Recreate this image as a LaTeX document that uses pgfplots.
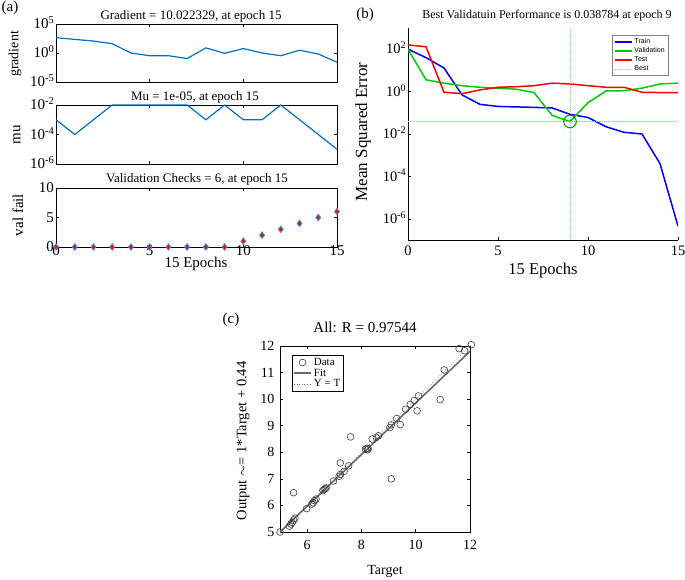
\documentclass[border=0pt]{standalone}
\usepackage{pgfplots}
\pgfplotsset{compat=1.18}
\usepackage{fontspec}
\setmainfont{Liberation Serif}
\newfontfamily\arialfont{Liberation Sans}
\definecolor{mblue}{RGB}{0,114,189}
\definecolor{lblue}{RGB}{70,140,220}
\definecolor{trainblue}{RGB}{0,0,255}
\definecolor{valgreen}{RGB}{0,205,0}
\definecolor{bestgreen}{RGB}{140,205,140}
\definecolor{testred}{RGB}{255,0,0}
\definecolor{markgray}{RGB}{60,60,60}
\definecolor{fitgray}{RGB}{105,105,105}
\newcommand{\fs}[1]{\fontsize{#1}{#1}\selectfont}
\newcommand{\sx}[1]{10\smash{\textsuperscript{#1}}}
\begin{document}
\begin{tikzpicture}
\path[use as bounding box] (0,0) rectangle (685pt,579pt);
\pgfplotsset{every axis/.append style={scale only axis, anchor=south west,
  /pgf/number format/assume math mode=true,
  tick align=inside, major tick length=3pt,
  tick style={black, line width=0.5pt},
  axis line style={line width=0.6pt, black},
  xminorticks=false, yminorticks=false}}

% (a) gradient
\begin{axis}[at={(56pt,497pt)}, width=281pt, height=58pt,
  ymode=log, xmin=0, xmax=15, ymin=1e-5, ymax=1e5,
  xtick={0,5,10,15}, xticklabels={},
  ytick={1e-5,1,1e5}, yticklabels={\sx{-5},\sx{0},\sx{5}},
  yticklabel style={font=\fs{15}, inner sep=1.5pt}]
\addplot[mblue, line width=1.2pt] coordinates {(0,450)(1,220)(2,115)(3,40)(4,1)(5,0.34)(6,0.34)(7,0.11)(8,7.6)(9,0.87)(10,5.8)(11,1)(12,0.34)(13,3)(14,0.67)(15,0.026)};
\end{axis}

% (a) mu
\begin{axis}[at={(56pt,415pt)}, width=281pt, height=59pt,
  ymode=log, xmin=0, xmax=15, ymin=1e-6, ymax=1e-2,
  xtick={0,5,10,15}, xticklabels={},
  ytick={1e-6,1e-4,1e-2}, yticklabels={\sx{-6},\sx{-4},\sx{-2}},
  yticklabel style={font=\fs{15}, inner sep=1.5pt}]
\addplot[mblue, line width=1.2pt] coordinates {(0,1e-3)(1,1e-4)(2,1e-3)(3,1e-2)(4,1e-2)(5,1e-2)(6,1e-2)(7,1e-2)(8,1e-3)(9,1e-2)(10,1e-3)(11,1e-3)(12,1e-2)(13,1e-3)(14,1e-4)(15,1e-5)};
\end{axis}

% (a) val fail
\begin{axis}[at={(56pt,332pt)}, width=281pt, height=59pt,
  xmin=0, xmax=15, ymin=0, ymax=10, clip=false,
  xtick={0,5,10,15}, xticklabels={0,5,10,15},
  ytick={0,5,10}, yticklabels={0,5,10},
  xticklabel style={font=\fs{15}, inner sep=0pt, yshift=2pt},
  yticklabel style={font=\fs{15}, inner sep=2pt}]
\addplot[only marks, mark=diamond*, mark size=3.2pt, mark options={draw=lblue, fill=red, line width=0.9pt}] coordinates {(0,0)(1,0)(2,0)(3,0)(4,0)(5,0)(6,0)(7,0)(8,0)(9,0)(10,1)(11,2)(12,3)(13,4)(14,5)(15,6)};
\end{axis}

% (b) performance
\begin{axis}[at={(408pt,339pt)}, width=270pt, height=212pt,
  ymode=log, xmin=0, xmax=15, ymin=1e-7, ymax=1e3,
  axis x line*=bottom, axis y line*=left, axis line style={-},
  xtick={0,5,10,15}, xticklabels={0,5,10,15},
  ytick={1e-6,1e-4,1e-2,1,1e2}, yticklabels={\sx{-6},\sx{-4},\sx{-2},\sx{0},\sx{2}},
  xticklabel style={font=\fs{14.5}, yshift=-2pt},
  yticklabel style={font=\fs{14.5}, inner sep=1.5pt},
  legend style={at={(0.756,0.967)}, anchor=north west, font=\arialfont\fs{7}, draw=gray, line width=0.6pt, inner sep=1.5pt, row sep=-1.5pt, fill=white},
  legend cell align=left]
\addplot[trainblue, line width=1.5pt] coordinates {(0,100)(1,40)(2,13)(3,0.7)(4,0.25)(5,0.2)(6,0.19)(7,0.18)(8,0.17)(9,0.085)(10,0.06)(11,0.022)(12,0.012)(13,0.01)(14,4e-4)(15,4.5e-7)};
\addlegendentry{Train}
\addplot[valgreen, line width=1.5pt] coordinates {(0,100)(1,3.6)(2,2.5)(3,1.9)(4,1.6)(5,1.45)(6,1.3)(7,0.9)(8,0.076)(9,0.038784)(10,0.3)(11,1.07)(12,1.1)(13,1.45)(14,2.3)(15,2.5)};
\addlegendentry{Validation}
\addplot[testred, line width=1.5pt] coordinates {(0,160)(1,130)(2,0.93)(3,0.8)(4,1.2)(5,1.6)(6,1.7)(7,1.9)(8,2.5)(9,2.3)(10,1.9)(11,1.6)(12,1.6)(13,0.93)(14,0.9)(15,0.9)};
\addlegendentry{Test}
\addplot[bestgreen, dash pattern=on 0.8pt off 1.2pt, line width=0.5pt] coordinates {(0,0.038784)(15,0.038784)};
\addlegendentry{Best}
\addplot[bestgreen, dash pattern=on 0.8pt off 1.2pt, line width=0.5pt, forget plot] coordinates {(9,1e-7)(9,1e3)};
\addplot[valgreen!70!black, only marks, mark=o, mark size=6.3pt, line width=1pt, forget plot] coordinates {(9,0.038784)};
\end{axis}

% (c) regression
\begin{axis}[at={(280pt,47pt)}, width=190pt, height=186pt,
  xmin=5, xmax=12, ymin=5, ymax=12, clip=false,
  xtick={6,8,10,12}, ytick={5,6,7,8,9,10,11,12},
  xticklabels={6,8,10,12}, yticklabels={5,6,7,8,9,10,11,12},
  xticklabel style={font=\fs{14}, yshift=-5pt},
  yticklabel style={font=\fs{14}, xshift=-2pt},
  legend style={at={(0.063,0.952)}, anchor=north west, font=\fs{11}, draw=black, line width=0.5pt, inner sep=1pt, row sep=-2pt},
  legend cell align=left]
\addplot[only marks, mark=o, mark size=3.4pt, mark options={markgray, line width=0.6pt}] coordinates {(5.0,5.0)(5.35,5.22)(5.4,5.3)(5.45,5.36)(5.5,5.45)(5.55,5.52)(5.5,6.48)(5.98,5.88)(6.17,6.05)(6.22,6.1)(6.27,6.18)(6.33,6.24)(6.58,6.56)(6.62,6.6)(6.66,6.63)(6.7,6.66)(6.97,6.92)(7.18,7.1)(7.23,7.17)(7.22,7.6)(7.36,7.28)(7.53,7.49)(7.6,8.58)(8.15,8.12)(8.2,8.15)(8.22,8.09)(8.25,8.13)(8.4,8.5)(8.55,8.56)(8.63,8.62)(9.05,8.93)(9.1,9.03)(9.1,7.0)(9.3,9.27)(9.43,9.04)(9.63,9.62)(9.8,9.8)(9.95,9.95)(10.05,9.56)(10.1,10.12)(10.9,9.98)(11.05,11.1)(11.6,11.9)(11.8,11.82)(12.05,12.05)};
\addlegendentry{Data}
\addplot[fitgray, line width=1.6pt] coordinates {(5,5.0)(12,11.8)};
\addlegendentry{Fit}
\addplot[fitgray, dotted, line width=0.6pt] coordinates {(5,5)(12,12)};
\addlegendentry{Y = T}
\end{axis}

\begin{scope}[shift={(0,579pt)}, yscale=-1]
\node[font=\fs{15}] at (10pt,8pt) {(a)};
\node[font=\fs{13}] at (191pt,16pt) {Gradient = 10.022329, at epoch 15};
\node[font=\fs{14}, rotate=90] at (15pt,54pt) {gradient};
\node[font=\fs{13}] at (195pt,97pt) {Mu = 1e-05, at epoch 15};
\node[font=\fs{15}, rotate=90] at (17pt,135pt) {mu};
\node[font=\fs{13}] at (197pt,179pt) {Validation Checks = 6, at epoch 15};
\node[font=\fs{15}, rotate=90] at (18pt,215pt) {val fail};
\node[font=\fs{15}] at (196pt,264pt) {15 Epochs};
\node[font=\fs{15}] at (365pt,15pt) {(b)};
\node[font=\fs{12}] at (547pt,16pt) {Best Validatuin Performance is 0.038784 at epoch 9};
\node[font=\fs{17}, rotate=90] at (363pt,132pt) {Mean Squared Error};
\node[font=\fs{16.5}] at (543pt,271pt) {15 Epochs};
\node[font=\fs{15}] at (231pt,320pt) {(c)};
\node[font=\fs{15}] at (365pt,327pt) {All: R = 0.97544};
\node[font=\fs{14.5}, rotate=90] at (243pt,441pt) {Output $\sim$= 1*Target + 0.44};
\node[font=\fs{14}] at (385pt,571pt) {Target};
\end{scope}
\end{tikzpicture}
\end{document}
